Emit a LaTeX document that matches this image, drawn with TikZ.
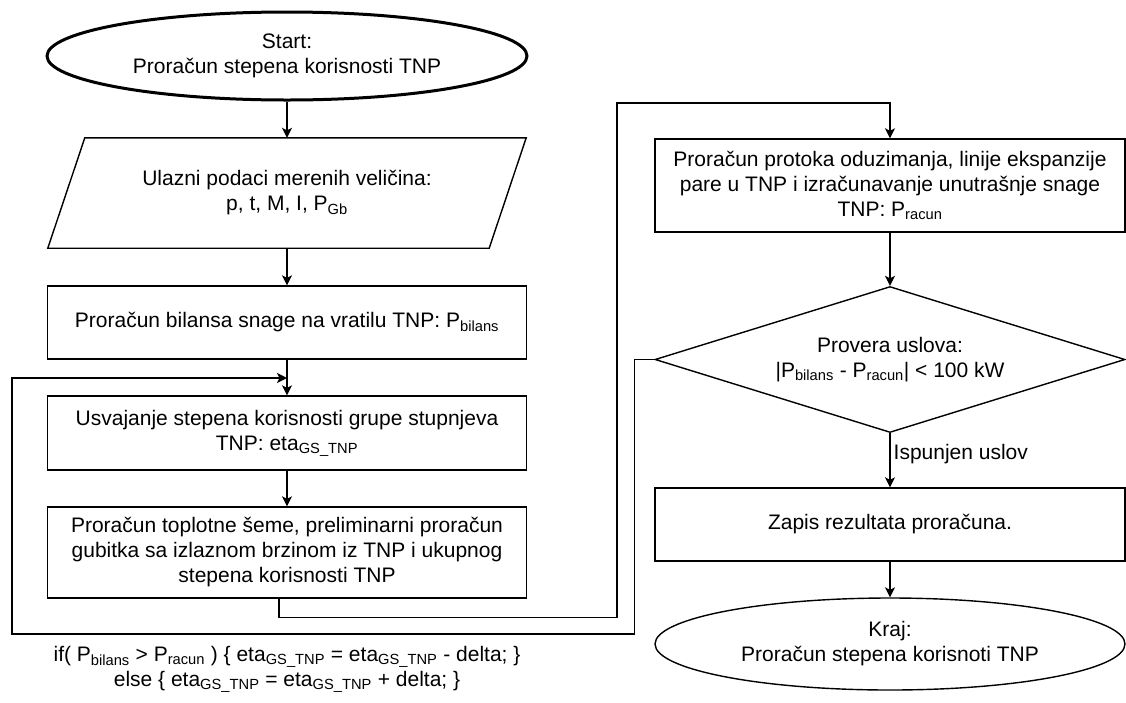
\documentclass[tikz,border=0pt]{standalone}
\usepackage{fontspec}
\setmainfont{Liberation Sans}
\usetikzlibrary{shapes.geometric,arrows.meta}

\begin{document}
\begin{tikzpicture}[x=1pt, y=-1pt, font=\fontsize{21}{25}\selectfont,
  line/.style={line width=1.4pt},
  arr/.style={line, -{Stealth[length=10pt,width=10pt,inset=2.5pt]}},
  blok/.style={draw, line, rectangle, inner sep=0pt, align=center},
  krug/.style={draw, line, ellipse, inner sep=0pt, align=center}]
\useasboundingbox (0,0) rectangle (1126,702);

% left column
\node[krug, line width=3pt, minimum width=480pt, minimum height=88pt] (start) at (287,56) {Start:\\Proračun stepena korisnosti TNP};
\node[inner sep=0pt, align=center, minimum width=441pt, minimum height=110pt] (ulaz) at (287,193) {Ulazni podaci merenih veličina:\\p, t, M, I, P\textsubscript{Gb}};
\draw[line] ([xshift=18.5pt]ulaz.north west) -- ([xshift=18.5pt]ulaz.north east) -- ([xshift=-18.5pt]ulaz.south east) -- ([xshift=-18.5pt]ulaz.south west) -- cycle;
\node[blok, minimum width=479pt, minimum height=73pt] (bilans) at (287,322.5) {Proračun bilansa snage na vratilu TNP: P\textsubscript{bilans}};
\node[blok, minimum width=479pt, minimum height=74pt] (usv) at (287,433) {Usvajanje stepena korisnosti grupe stupnjeva\\TNP: eta\textsubscript{GS\_TNP}};
\node[blok, minimum width=479pt, minimum height=91pt] (sema) at (287,552.5) {Proračun toplotne šeme, preliminarni proračun\\gubitka sa izlaznom brzinom iz TNP i ukupnog\\stepena korisnosti TNP};
\node[align=center, inner sep=0pt] (uslov) at (287,669.5) {if( P\textsubscript{bilans} > P\textsubscript{racun} ) \{ eta\textsubscript{GS\_TNP} = eta\textsubscript{GS\_TNP} - delta; \}\\else \{ eta\textsubscript{GS\_TNP} = eta\textsubscript{GS\_TNP} + delta; \}};

% right column
\node[blok, minimum width=470pt, minimum height=93pt] (protok) at (890,185.5) {Proračun protoka oduzimanja, linije ekspanzije\\pare u TNP i izračunavanje unutrašnje snage\\TNP: P\textsubscript{racun}};
\node[draw, line, diamond, aspect=3.2, inner sep=0pt, align=center, minimum width=470pt, minimum height=146pt] (provera) at (890,359.5) {Provera uslova:\\|P\textsubscript{bilans} - P\textsubscript{racun}| < 100 kW};
\node[blok, minimum width=470pt, minimum height=73pt] (zapis) at (890,524.5) {Zapis rezultata proračuna.};
\node[krug, minimum width=470pt, minimum height=92pt] (kraj) at (890,644) {Kraj:\\Proračun stepena korisnoti TNP};

\coordinate (gore) at (617,103);
\coordinate (dole) at (12,634);
\coordinate (spoj) at (287,378);

\draw[arr] (start) -- (ulaz);
\draw[arr] (ulaz) -- (bilans);
\draw[arr] (bilans) -- (usv);
\draw[arr] (usv) -- (sema);
\draw[arr] ([xshift=-8pt]sema.south) -- ++(0,19) -| (gore) -| (protok.north);
\draw[arr] (protok) -- (provera);
\draw[arr] (provera) -- node[pos=0.38, anchor=west, inner xsep=3pt, inner ysep=0pt] (ispunjen) {Ispunjen uslov} (zapis);
\draw[arr] (zapis) -- (kraj);
\draw[arr] (provera.west) -- ++(-20,0) |- (dole) |- (spoj);
\end{tikzpicture}
\end{document}
